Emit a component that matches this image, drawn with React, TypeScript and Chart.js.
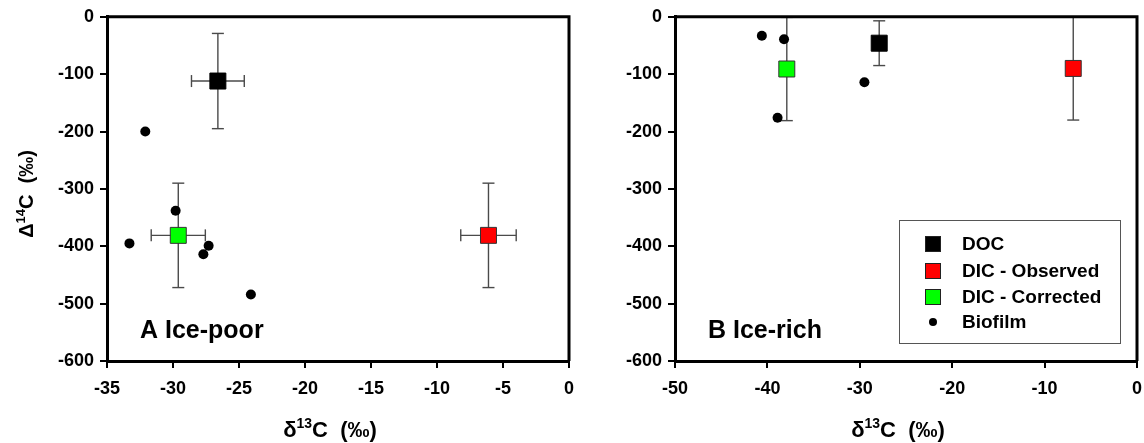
import React, { useEffect, useRef } from "react";
import { Chart, registerables } from "chart.js";
Chart.register(...registerables);

const FONT = "'Liberation Sans', Arial, sans-serif";

// ---- Panel A: Ice-poor ----
const docA_x = [-26.6];
const docA_y = [-112];
const docA_xErr = [2.0];
const docA_yErr = [83];
const dicObsA_x = [-6.1];
const dicObsA_y = [-381];
const dicObsA_xErr = [2.1];
const dicObsA_yErr = [91];
const dicCorA_x = [-29.6];
const dicCorA_y = [-381];
const dicCorA_xErr = [2.05];
const dicCorA_yErr = [91];
const bioA_x = [-32.1, -29.8, -33.3, -27.3, -27.7, -24.1];
const bioA_y = [-200, -338, -395, -399, -414, -484];

// ---- Panel B: Ice-rich ----
const docB_x = [-27.9];
const docB_y = [-46];
const docB_yErr = [39];
const dicObsB_x = [-6.9];
const dicObsB_y = [-90];
const dicObsB_yErr = [90];
const dicCorB_x = [-37.9];
const dicCorB_y = [-91];
const dicCorB_yErr = [90];
const bioB_x = [-40.6, -38.2, -38.9, -29.5];
const bioB_y = [-33, -39, -176, -114];

const seriesLabels = ["DOC", "DIC - Observed", "DIC - Corrected", "Biofilm"];
const seriesColors = ["#000000", "#FF0000", "#00FF00", "#000000"];

const xRangeA = [-35, 0];
const xRangeB = [-50, 0];
const xStepA = 5;
const xStepB = 10;
const yRange = [-600, 0];
const yStep = 100;

const pts = (xs: number[], ys: number[]) => xs.map((x, i) => ({ x, y: ys[i] }));

const errorBarPlugin = {
  id: "errorBars",
  beforeDatasetsDraw(chart: any) {
    const ctx = chart.ctx;
    const xs = chart.scales.x;
    const ys = chart.scales.y;
    const cap = 6;
    ctx.save();
    ctx.strokeStyle = "#4a4a4a";
    ctx.lineWidth = 1.4;
    const line = (a: number, b: number, c: number, d: number) => {
      ctx.beginPath();
      ctx.moveTo(a, b);
      ctx.lineTo(c, d);
      ctx.stroke();
    };
    chart.data.datasets.forEach((ds: any) => {
      ds.data.forEach((p: any, i: number) => {
        const px = xs.getPixelForValue(p.x);
        const py = ys.getPixelForValue(p.y);
        if (ds.errY && ds.errY[i]) {
          const y1 = ys.getPixelForValue(p.y + ds.errY[i]);
          const y2 = ys.getPixelForValue(p.y - ds.errY[i]);
          line(px, y1, px, y2);
          line(px - cap, y1, px + cap, y1);
          line(px - cap, y2, px + cap, y2);
        }
        if (ds.errX && ds.errX[i]) {
          const x1 = xs.getPixelForValue(p.x - ds.errX[i]);
          const x2 = xs.getPixelForValue(p.x + ds.errX[i]);
          line(x1, py, x2, py);
          line(x1, py - cap, x1, py + cap);
          line(x2, py - cap, x2, py + cap);
        }
      });
    });
    ctx.restore();
  },
};

const decorPlugin = {
  id: "decor",
  afterDraw(chart: any) {
    const o = chart.options.plugins.decor || {};
    const ctx = chart.ctx;
    const a = chart.chartArea;
    ctx.save();
    // top & right frame
    ctx.strokeStyle = "#000";
    ctx.lineWidth = 3;
    ctx.beginPath();
    ctx.moveTo(a.left, a.top);
    ctx.lineTo(a.right, a.top);
    ctx.lineTo(a.right, a.bottom);
    ctx.stroke();

    ctx.fillStyle = "#000";
    // panel label
    ctx.font = `bold 25px ${FONT}`;
    ctx.textAlign = "left";
    ctx.textBaseline = "alphabetic";
    ctx.fillText(o.panelLabel, a.left + 33, 338);

    const drawSup = (parts: [string, number, number][], x: number, y: number) => {
      let total = 0;
      parts.forEach(([t, s]) => {
        ctx.font = `bold ${s}px ${FONT}`;
        total += ctx.measureText(t).width;
      });
      let cx = x - total / 2;
      parts.forEach(([t, s, dy]) => {
        ctx.font = `bold ${s}px ${FONT}`;
        ctx.fillText(t, cx, y - dy);
        cx += ctx.measureText(t).width;
      });
    };
    ctx.textAlign = "left";
    drawSup(
      [
        ["δ", 22, 0],
        ["13", 14, 9],
        ["C  (‰)", 22, 0],
      ],
      (a.left + a.right) / 2 - 8,
      437
    );
    if (o.yTitle) {
      ctx.save();
      ctx.translate(33, 194);
      ctx.rotate(-Math.PI / 2);
      drawSup(
        [
          ["Δ", 20, 0],
          ["14", 13, 8],
          ["C  (‰)", 20, 0],
        ],
        0,
        0
      );
      ctx.restore();
    }

    // legend
    if (o.legend) {
      const bx = a.left + 224;
      const by = 220;
      const bw = 221;
      const bh = 123;
      ctx.fillStyle = "#fff";
      ctx.fillRect(bx, by, bw, bh);
      ctx.strokeStyle = "#555";
      ctx.lineWidth = 1;
      ctx.strokeRect(bx + 0.5, by + 0.5, bw, bh);
      const rows = [24, 51, 77, 102];
      chart.data.datasets.forEach((ds: any, i: number) => {
        const cy = by + rows[i];
        const mx = bx + 34;
        if (ds.pointStyle === "rect") {
          ctx.fillStyle = ds.backgroundColor;
          ctx.fillRect(mx - 7.5, cy - 7.5, 15, 15);
          ctx.strokeStyle = "#222";
          ctx.lineWidth = 1;
          ctx.strokeRect(mx - 7.5, cy - 7.5, 15, 15);
        } else {
          ctx.fillStyle = ds.backgroundColor;
          ctx.beginPath();
          ctx.arc(mx, cy, 4, 0, Math.PI * 2);
          ctx.fill();
        }
        ctx.fillStyle = "#000";
        ctx.font = `bold 19px ${FONT}`;
        ctx.textBaseline = "middle";
        ctx.fillText(ds.label, bx + 63, cy + 1);
      });
    }
    ctx.restore();
  },
};

function squareDs(i: number, x: number[], y: number[], ex: number[] | null, ey: number[] | null) {
  return {
    label: seriesLabels[i],
    data: pts(x, y),
    pointStyle: "rect",
    pointRadius: 11.3,
    pointHoverRadius: 11.3,
    backgroundColor: seriesColors[i],
    borderColor: i === 0 ? "#000" : "#333",
    borderWidth: 1,
    errX: ex,
    errY: ey,
  };
}

function bioDs(x: number[], y: number[]) {
  return {
    label: seriesLabels[3],
    data: pts(x, y),
    pointStyle: "circle",
    pointRadius: 5,
    pointHoverRadius: 5,
    backgroundColor: seriesColors[3],
    borderColor: seriesColors[3],
    borderWidth: 0,
  };
}

function makeConfig(datasets: any[], xr: number[], xStep: number, yAxisWidth: number, padRight: number, decor: any) {
  const tickFont = { family: FONT, size: 18, weight: "bold" as const };
  return {
    type: "scatter" as const,
    data: { datasets },
    options: {
      animation: false,
      responsive: false,
      maintainAspectRatio: false,
      devicePixelRatio: 1,
      layout: { padding: { left: 0, right: padRight, top: 15, bottom: 0 } },
      plugins: {
        legend: { display: false },
        tooltip: { enabled: false },
        decor,
      },
      scales: {
        x: {
          type: "linear",
          min: xr[0],
          max: xr[1],
          ticks: {
            stepSize: xStep,
            color: "#000",
            font: tickFont,
            padding: 10,
            maxRotation: 0,
            autoSkip: false,
            callback: (v: any) => String(v),
          },
          grid: { drawOnChartArea: false, drawTicks: true, tickLength: 7, color: "#000", lineWidth: 2 },
          border: { display: true, color: "#000", width: 3 },
          afterFit: (s: any) => {
            s.height = 82;
          },
        },
        y: {
          type: "linear",
          min: yRange[0],
          max: yRange[1],
          ticks: {
            stepSize: yStep,
            color: "#000",
            font: tickFont,
            padding: 6,
            autoSkip: false,
            callback: (v: any) => String(v),
          },
          grid: { drawOnChartArea: false, drawTicks: true, tickLength: 7, color: "#000", lineWidth: 2 },
          border: { display: true, color: "#000", width: 3 },
          afterFit: (s: any) => {
            s.width = yAxisWidth;
          },
        },
      },
    },
    plugins: [errorBarPlugin, decorPlugin],
  };
}

function Panel({ config, left, width }: { config: any; left: number; width: number }) {
  const ref = useRef<HTMLCanvasElement>(null);
  useEffect(() => {
    const chart = new Chart(ref.current as HTMLCanvasElement, config);
    return () => chart.destroy();
  }, []);
  return (
    <canvas
      ref={ref}
      width={width}
      height={443}
      style={{ position: "absolute", left, top: 0, width, height: 443 }}
    />
  );
}

export default function App() {
  const configA = makeConfig(
    [
      squareDs(0, docA_x, docA_y, docA_xErr, docA_yErr),
      squareDs(1, dicObsA_x, dicObsA_y, dicObsA_xErr, dicObsA_yErr),
      squareDs(2, dicCorA_x, dicCorA_y, dicCorA_xErr, dicCorA_yErr),
      bioDs(bioA_x, bioA_y),
    ],
    xRangeA,
    xStepA,
    107,
    21,
    { panelLabel: "A Ice-poor", yTitle: true, legend: false }
  );
  const configB = makeConfig(
    [
      squareDs(0, docB_x, docB_y, null, docB_yErr),
      squareDs(1, dicObsB_x, dicObsB_y, null, dicObsB_yErr),
      squareDs(2, dicCorB_x, dicCorB_y, null, dicCorB_yErr),
      bioDs(bioB_x, bioB_y),
    ],
    xRangeB,
    xStepB,
    85,
    23,
    { panelLabel: "B Ice-rich", yTitle: false, legend: true }
  );
  return (
    <div style={{ position: "absolute", left: 0, top: 0, width: 1144, height: 443, background: "#fff", overflow: "hidden" }}>
      <Panel config={configA} left={0} width={590} />
      <Panel config={configB} left={590} width={570} />
    </div>
  );
}
